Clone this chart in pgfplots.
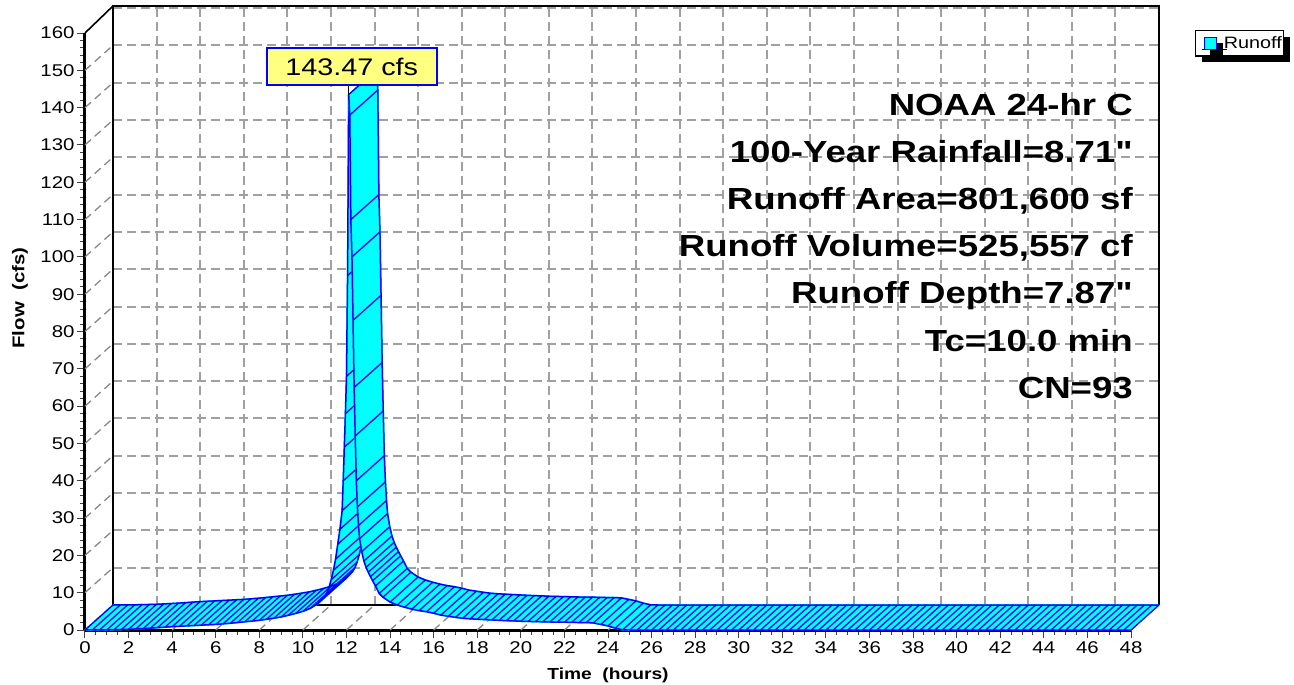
\documentclass[border=0pt]{standalone}
\usepackage{fontspec}
\setmainfont{Liberation Sans}[FakeStretch=1.2, Ligatures=TeXOff]
\usepackage{pgfplots}
\usepackage{pgfplotstable}
\pgfplotsset{compat=1.18}
\usetikzlibrary{shadows}

\definecolor{gridgray}{RGB}{160,160,160}
\definecolor{labelyellow}{RGB}{255,255,128}
\definecolor{rcyan}{RGB}{0,255,255}
\definecolor{rblue}{RGB}{0,0,255}

% rising limb of the runoff hydrograph (hours, cfs)
\pgfplotstableread{
t q
0.00 0.00
0.33 0.01
0.67 0.03
1.00 0.05
1.33 0.09
1.67 0.14
2.00 0.20
2.33 0.29
2.67 0.39
3.00 0.50
3.33 0.63
3.67 0.77
4.00 0.90
4.33 1.00
4.67 1.10
5.00 1.20
5.33 1.30
5.67 1.40
6.00 1.50
6.33 1.65
6.67 1.82
7.00 2.00
7.33 2.20
7.67 2.40
8.00 2.60
8.33 2.88
8.67 3.18
9.00 3.50
9.33 3.95
9.67 4.45
10.00 5.00
10.33 5.80
10.67 7.00
11.00 9.00
11.10 10.0
11.20 11.5
11.30 13.5
11.40 16.0
11.50 19.0
11.60 23.0
11.70 27.0
11.80 32.0
11.85 40.0
11.90 49.0
11.95 58.0
12.00 68.0
12.05 95.0
12.10 143.47
}\rising

% falling limb of the runoff hydrograph (hours, cfs)
\pgfplotstableread{
t q
12.10 143.47
12.15 138.0
12.20 110.0
12.25 100.0
12.30 83.0
12.35 65.0
12.40 52.0
12.45 40.0
12.50 33.0
12.55 28.0
12.60 24.5
12.70 21.0
12.80 18.5
12.90 16.8
13.00 15.5
13.10 14.3
13.20 13.2
13.33 11.8
13.50 9.8
13.67 8.8
14.00 7.5
14.33 6.7
14.67 6.1
15.00 5.6
15.33 5.2
15.67 4.9
16.00 4.5
16.33 4.0
16.67 3.7
17.00 3.4
17.33 3.15
17.67 3.0
18.00 2.9
18.33 2.8
18.67 2.7
19.00 2.6
19.33 2.5
19.67 2.45
20.00 2.35
20.33 2.30
20.67 2.25
21.00 2.20
21.33 2.15
21.67 2.10
22.00 2.10
22.33 2.05
22.67 2.00
23.00 2.00
23.33 1.90
23.67 1.50
24.00 1.10
24.33 0.50
24.67 0.05
25.00 0
25.33 0
25.67 0
26.00 0
26.33 0
26.67 0
27.00 0
27.33 0
27.67 0
28.00 0
28.33 0
28.67 0
29.00 0
29.33 0
29.67 0
30.00 0
30.33 0
30.67 0
31.00 0
31.33 0
31.67 0
32.00 0
32.33 0
32.67 0
33.00 0
33.33 0
33.67 0
34.00 0
34.33 0
34.67 0
35.00 0
35.33 0
35.67 0
36.00 0
36.33 0
36.67 0
37.00 0
37.33 0
37.67 0
38.00 0
38.33 0
38.67 0
39.00 0
39.33 0
39.67 0
40.00 0
40.33 0
40.67 0
41.00 0
41.33 0
41.67 0
42.00 0
42.33 0
42.67 0
43.00 0
43.33 0
43.67 0
44.00 0
44.33 0
44.67 0
45.00 0
45.33 0
45.67 0
46.00 0
46.33 0
46.67 0
47.00 0
47.33 0
47.67 0
48.00 0
}\falling

\def\ddx{1.2849}   % depth offset in hours  (28pt)
\def\ddy{6.700}    % depth offset in cfs    (25pt)
\def\sdx{0.040153} % \ddx/32
\def\sdy{0.209375} % \ddy/32

\tikzset{
  gridline/.style={gridgray, line width=2pt, dash pattern=on 9pt off 5pt},
  diagline/.style={gridgray!85!black, line width=1.3pt, dash pattern=on 8pt off 5pt},
  wall/.style={black, line width=1.6pt},
  back/.style={shift={(28pt,25pt)}},
}

\begin{document}
\begin{tikzpicture}
\useasboundingbox (0,0) rectangle (1294pt,-685pt);
% ----- back wall grid, snapped to whole pixels (picture origin = top-left corner)
\foreach \t in {2,4,6,8,10,12,14,16,18,20,22,24,26,28,30,32,34,36,38,40,42,44,46}{
  \pgfmathsetmacro\xx{round(113+\t*21.7917)}
  \draw[gridline] (\xx pt,-605pt) -- (\xx pt,-8pt);
}
\foreach \f in {10,20,30,40,50,60,70,80,90,100,110,120,130,140,150,160}{
  \pgfmathsetmacro\yy{round(605-\f*3.73125)}
  \draw[gridline] (113pt,-\yy pt) -- (1159pt,-\yy pt);
}
\begin{axis}[
  at={(85pt,-630pt)}, anchor=south west,
  x=21.7917pt, y=3.73125pt,
  xmin=0, xmax=48, ymin=0, ymax=160,
  clip=false,
  axis x line*=bottom, axis y line*=left,
  axis line style={black, line width=3pt},
  xtick={0,2,...,48}, ytick={0,10,...,160},
  minor x tick num=3, minor y tick num=4,
  tick align=outside,
  major tick length=8pt, minor tick length=4.5pt,
  every tick/.style={black!75, line width=1pt},
  /pgf/number format/assume math mode=true,
  ticklabel style={font=\fontsize{17}{17}\selectfont, black},
  xticklabel style={yshift=-0.5pt},
  yticklabel style={xshift=1pt},
  xlabel={Time~\ (hours)},
  ylabel={Flow~\ (cfs)},
  every axis x label/.style={at={(axis description cs:0.5,0)}, anchor=base, yshift=-49pt, font=\bfseries\fontsize{16}{16}\selectfont},
  every axis y label/.style={at={(axis description cs:-0.0621,0.556)}, anchor=center, rotate=90, font=\bfseries\fontsize{17}{17}\selectfont},
  legend style={at={(axis description cs:1.0612,1.005)}, anchor=north west,
    draw=black, line width=1.2pt, fill=white, inner xsep=0pt, inner ysep=4pt,
    nodes={inner sep=2pt},
    font=\fontsize{16.5}{16.5}\selectfont,
    drop shadow={shadow xshift=6pt, shadow yshift=-6pt, fill=black, opacity=1},
    legend cell align=left},
]
\addlegendimage{legend image code/.code={\draw[opacity=0] (0pt,0pt) -- (25pt,0pt);\draw[rblue, fill=rcyan, line width=1.2pt] (8pt,-6pt) rectangle (20pt,6pt);}}
\addlegendentry{Runoff}

% ----- left wall and floor depth lines
\pgfplotsinvokeforeach{0,2,4,6,8,10,12,14,16,18,20,22,24,26,28,30,32,34,36,38,40,42,44,46,48}{
  \draw[diagline] (axis cs:#1,0) -- ++(28pt,25pt);
}
\pgfplotsinvokeforeach{0,10,20,30,40,50,60,70,80,90,100,110,120,130,140,150}{
  \draw[diagline] (axis cs:0,#1) -- ++(28pt,25pt);
}
\draw[wall] ([back]axis cs:0,0) -- ([back]axis cs:48,0);
\draw[wall] ([back]axis cs:0,0) -- ([back,yshift=2pt]axis cs:0,160)
  -- ([back,yshift=2pt]axis cs:48,160) -- ([back]axis cs:48,0);
\draw[wall] (axis cs:0,160) -- ([back,yshift=2pt]axis cs:0,160);

% ----- ribbon, rising part
\pgfplotsinvokeforeach{0,...,32}{
  \addplot[rcyan, line width=1.6pt, line join=round, forget plot]
    table[x expr=\thisrow{t}+#1*\sdx, y expr=\thisrow{q}+#1*\sdy] {\rising};
}
\addplot[rblue, line width=1.5pt, line join=round, forget plot] table[x=t, y=q] {\rising};
\addplot[rblue, line width=1.5pt, line join=round, forget plot]
  table[x expr=\thisrow{t}+\ddx, y expr=\thisrow{q}+\ddy] {\rising};
\addplot[rblue, line width=1.3pt, forget plot, quiver={u=\ddx, v=\ddy}] table[x=t, y=q] {\rising};

% ----- ribbon, falling part (in front of the rising part)
\pgfplotsinvokeforeach{0,...,32}{
  \addplot[rcyan, line width=1.6pt, line join=round, forget plot]
    table[x expr=\thisrow{t}+#1*\sdx, y expr=\thisrow{q}+#1*\sdy] {\falling};
}
\addplot[rblue, line width=1.5pt, line join=round, forget plot] table[x=t, y=q] {\falling};
\addplot[rblue, line width=1.5pt, line join=round, forget plot]
  table[x expr=\thisrow{t}+\ddx, y expr=\thisrow{q}+\ddy] {\falling};
\addplot[rblue, line width=1.3pt, forget plot, quiver={u=\ddx, v=\ddy}] table[x=t, y=q] {\falling};

% ----- peak label
\draw[black, line width=1pt] (axis cs:12.1,143.47) -- (axis cs:12.1,147);
\node[fill=labelyellow, draw=rblue, line width=1.8pt, inner sep=0pt,
      minimum width=170pt, minimum height=37pt,
      font=\fontsize{24}{24}\selectfont] at (axis cs:12.24,150.97) {143.47 cfs};
\end{axis}

% ----- summary text
\begin{scope}[every node/.style={anchor=base east, inner sep=0pt, font=\bfseries\fontsize{30.5}{30.5}\selectfont}]
\node at (1133pt,-115pt) {NOAA 24-hr C};
\node at (1133pt,-162pt) {100-Year Rainfall=8.71"};
\node at (1133pt,-209.5pt) {Runoff Area=801,600 sf};
\node at (1133pt,-256.5pt) {Runoff Volume=525,557 cf};
\node at (1133pt,-303.5pt) {Runoff Depth=7.87"};
\node at (1133pt,-351pt) {Tc=10.0 min};
\node at (1133pt,-398pt) {CN=93};
\end{scope}
\end{tikzpicture}
\end{document}
